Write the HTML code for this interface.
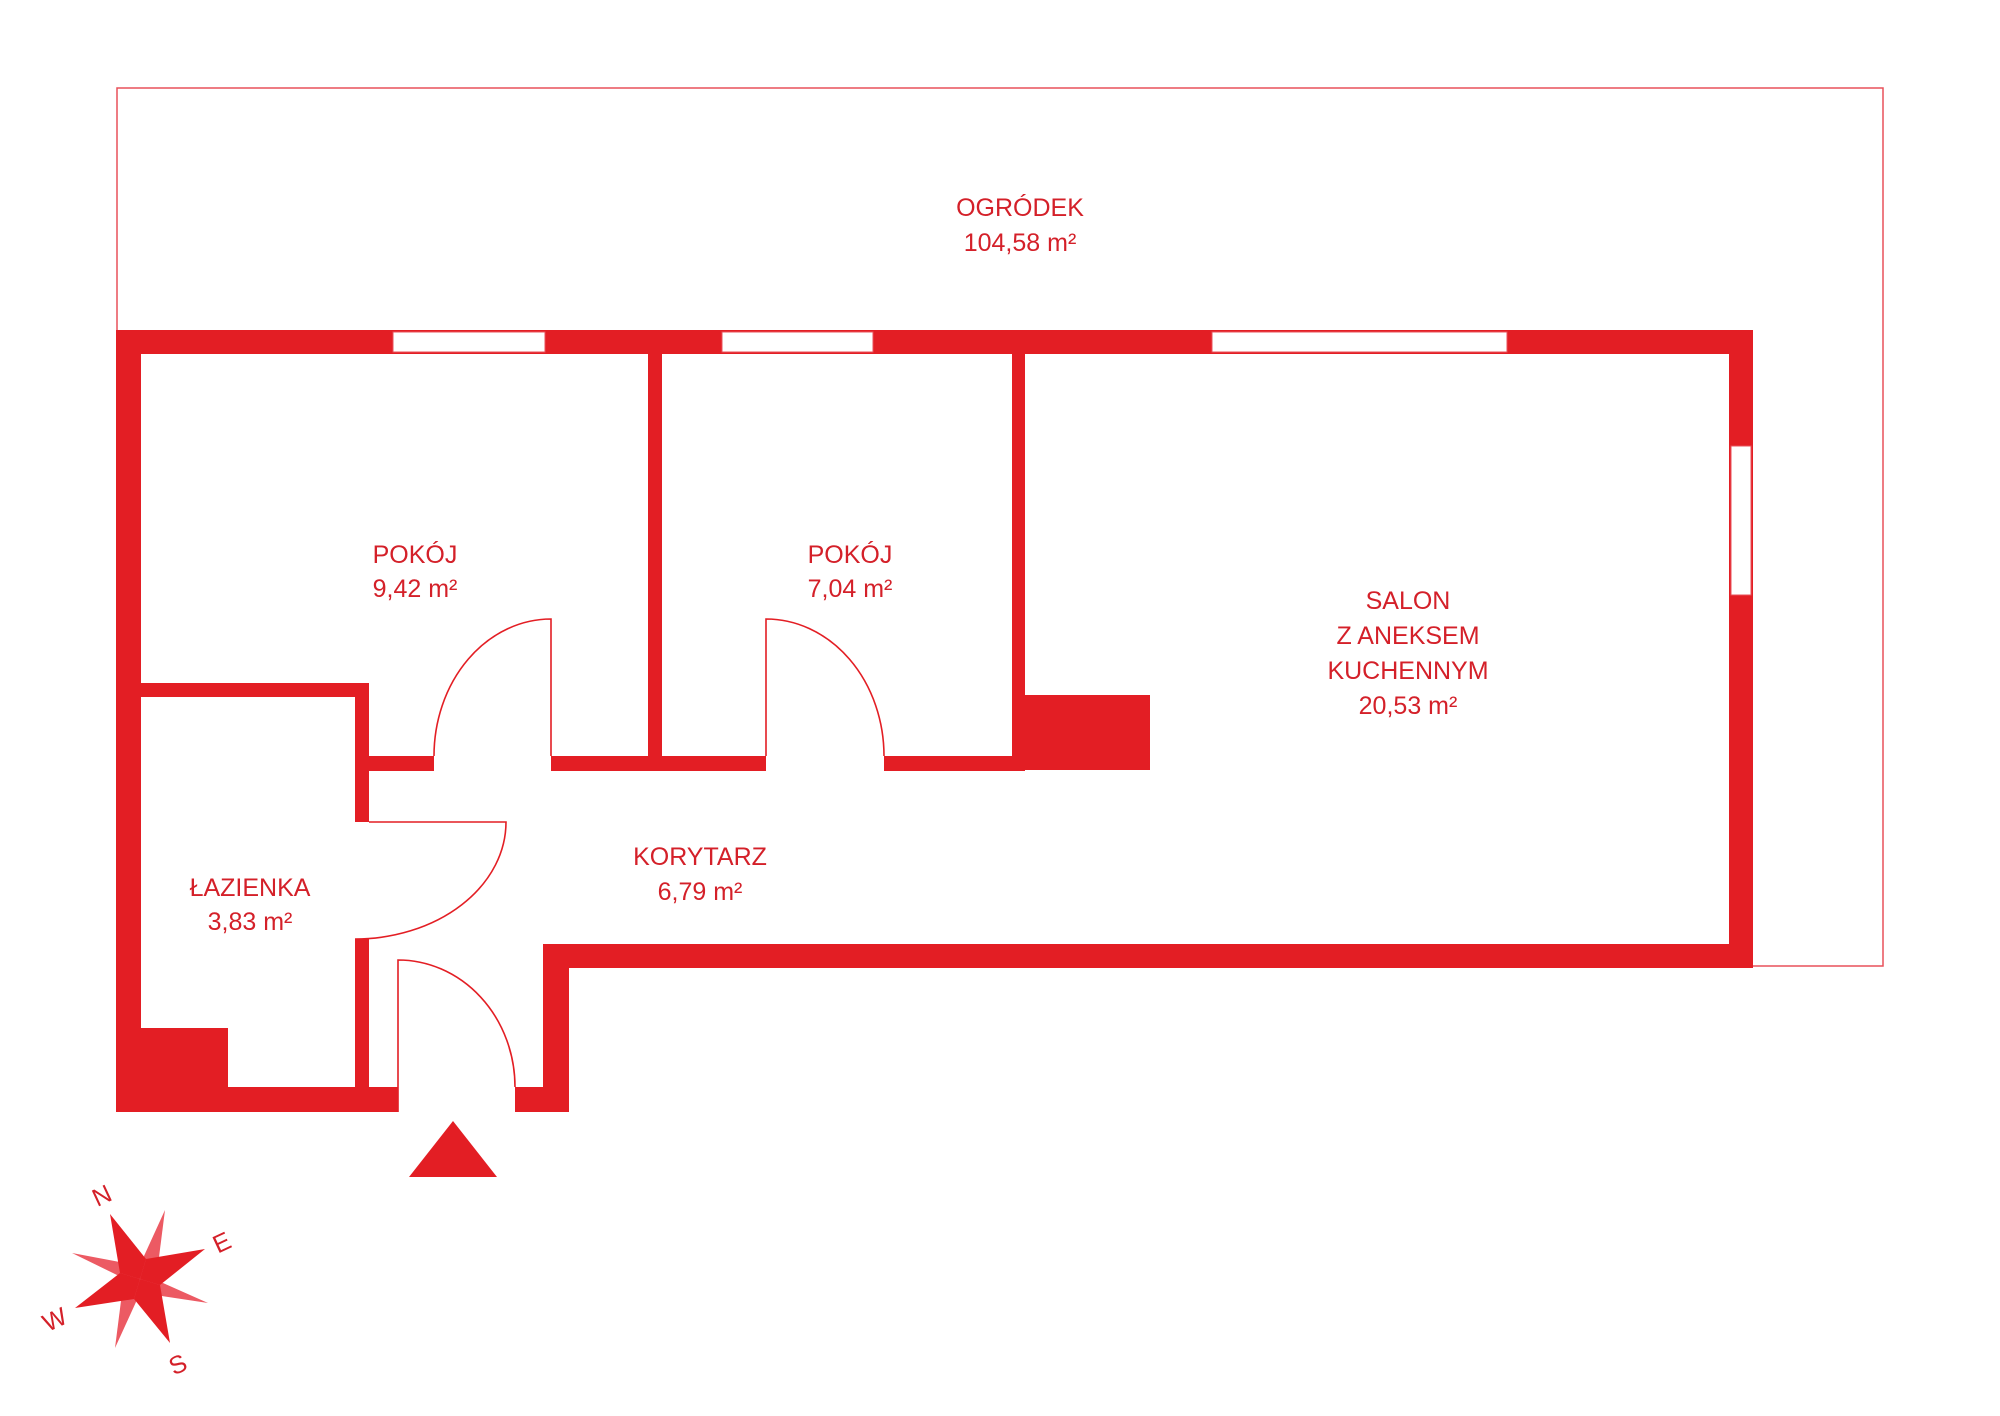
<!DOCTYPE html>
<html><head><meta charset="utf-8"><style>
html,body{margin:0;padding:0;background:#fff;}
svg{display:block}
text{font-family:"Liberation Sans",sans-serif;fill:#d42029;font-size:25px;text-anchor:middle}
</style></head><body>
<svg width="2000" height="1416" viewBox="0 0 2000 1416" xmlns="http://www.w3.org/2000/svg">
<polyline points="117,330 117,88 1883,88 1883,966 1753,966" fill="none" stroke="#e8505a" stroke-width="1.5"/>
<g fill="#e31e24">
<rect x="116" y="330" width="1637" height="24"/>
<rect x="116" y="330" width="25" height="782"/>
<rect x="1729" y="330" width="24" height="638"/>
<rect x="543" y="944" width="1210" height="24"/>
<rect x="543" y="944" width="26" height="168"/>
<rect x="515" y="1087" width="54" height="25"/>
<rect x="116" y="1087" width="282" height="25"/>
<rect x="141" y="1028" width="87" height="59"/>
<rect x="141" y="683" width="228" height="14"/>
<rect x="355" y="683" width="14" height="139"/>
<rect x="355" y="939" width="14" height="148"/>
<rect x="369" y="756" width="65" height="15"/>
<rect x="551" y="756" width="215" height="15"/>
<rect x="884" y="756" width="141" height="15"/>
<rect x="648" y="354" width="14" height="417"/>
<rect x="1012" y="354" width="13" height="417"/>
<rect x="1025" y="695" width="125" height="75"/>
</g>
<g fill="#fff" stroke="#e8505a" stroke-width="1">
<rect x="393" y="332" width="152" height="20"/>
<rect x="722" y="332" width="151" height="20"/>
<rect x="1212" y="332" width="295" height="20"/>
<rect x="1731" y="446" width="20" height="149"/>
</g>
<g fill="none" stroke="#e31e24" stroke-width="1.6">
<path d="M551,756 L551,619 A117,137 0 0,0 434,756"/>
<path d="M766,756 L766,619 A118,137 0 0,1 884,756"/>
<path d="M369,822 L506,822 A151,117 0 0,1 355,939"/>
<path d="M398,1112 L398,960 A117,127 0 0,1 515,1087"/>
</g>
<polygon points="409,1177 497,1177 453,1121" fill="#e31e24"/>
<g fill="#ec5a63">
<polygon points="165,1210 158,1265 140,1279 144,1256"/>
<polygon points="208,1303 155,1295 140,1279 163,1283"/>
<polygon points="115,1348 122,1293 140,1279 136,1302"/>
<polygon points="72,1253 125,1263 140,1279 117,1275"/>
</g>
<g fill="#e31e24">
<polygon points="110,1214 146,1259 140,1279 120,1273"/>
<polygon points="205,1249 160,1285 140,1279 146,1259"/>
<polygon points="170,1343 134,1299 140,1279 160,1285"/>
<polygon points="75,1308 120,1273 140,1279 134,1299"/>
</g>
<text x="102" y="1204" font-size="22" transform="rotate(-25 102 1196)">N</text>
<text x="222" y="1251" font-size="22" transform="rotate(-25 222 1243)">E</text>
<text x="178" y="1373" font-size="22" transform="rotate(-25 178 1365)">S</text>
<text x="55" y="1328" font-size="22" transform="rotate(-25 55 1320)">W</text>
<text x="1020" y="216">OGRÓDEK</text>
<text x="1020" y="251">104,58 m²</text>
<text x="415" y="563">POKÓJ</text>
<text x="415" y="597">9,42 m²</text>
<text x="850" y="563">POKÓJ</text>
<text x="850" y="597">7,04 m²</text>
<text x="1408" y="609">SALON</text>
<text x="1408" y="644">Z ANEKSEM</text>
<text x="1408" y="679">KUCHENNYM</text>
<text x="1408" y="714">20,53 m²</text>
<text x="700" y="865">KORYTARZ</text>
<text x="700" y="900">6,79 m²</text>
<text x="250" y="896">ŁAZIENKA</text>
<text x="250" y="930">3,83 m²</text>
</svg>
</body></html>
